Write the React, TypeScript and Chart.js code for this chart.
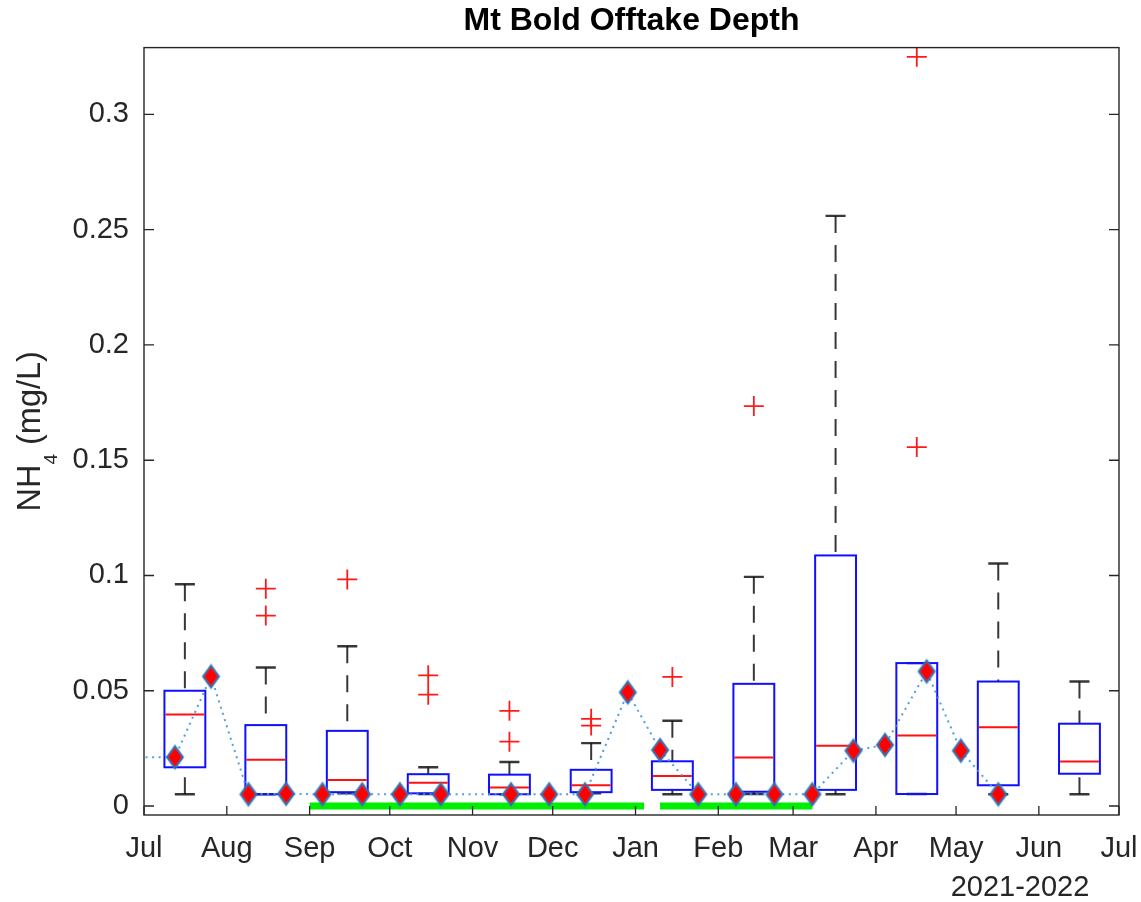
import React, { useEffect, useRef } from 'react';
import { Chart, registerables } from 'chart.js';

Chart.register(...registerables);

// ---------------- data ----------------
const monthTickDays = [0, 31, 62, 92, 123, 153, 184, 215, 243, 274, 304, 335, 365];
const monthTickLabels = ['Jul', 'Aug', 'Sep', 'Oct', 'Nov', 'Dec', 'Jan', 'Feb', 'Mar', 'Apr', 'May', 'Jun', 'Jul'];
const yearLabel = '2021-2022';
const yTickValues = [0, 0.05, 0.1, 0.15, 0.2, 0.25, 0.3];
const yTickLabels = ['0', '0.05', '0.1', '0.15', '0.2', '0.25', '0.3'];

// monthly box plots (x in days since 1 Jul 2021)
const boxDays = [15.3, 45.6, 76.1, 106.4, 136.8, 167.4, 197.8, 228.3, 258.9, 289.3, 319.8, 350.2];
const boxQ1 = [0.0168, 0.0051, 0.006, 0.0055, 0.0051, 0.006, 0.007, 0.0062, 0.007, 0.0052, 0.009, 0.014];
const boxMedian = [0.0397, 0.0201, 0.0113, 0.0101, 0.008, 0.009, 0.013, 0.021, 0.0261, 0.0306, 0.0342, 0.0193];
const boxQ3 = [0.05, 0.0351, 0.0326, 0.0138, 0.0136, 0.0157, 0.0194, 0.053, 0.1087, 0.062, 0.054, 0.0357];
const whiskerLow = [0.0051, 0.0051, 0.0055, 0.0052, 0.0051, 0.0055, 0.0051, 0.0052, 0.0051, 0.0052, 0.0051, 0.0051];
const whiskerHigh = [0.0962, 0.0601, 0.0693, 0.0168, 0.0191, 0.0273, 0.037, 0.0994, 0.256, 0.062, 0.1052, 0.054];

// outliers
const outlierDays = [45.6, 45.6, 76.1, 106.4, 106.4, 136.8, 136.8, 167.4, 167.4, 197.8, 228.3, 289.3, 289.3];
const outlierValues = [0.0943, 0.0826, 0.0983, 0.0567, 0.0483, 0.0413, 0.0279, 0.0378, 0.0349, 0.056, 0.1735, 0.1557, 0.325];

// offtake-depth samples (diamonds joined by dotted line)
const sampleDays = [-14, 11.6, 25.1, 39.1, 53.2, 66.8, 81.7, 95.8, 111.1, 137.4, 151.7, 165.1, 181.1, 193.2, 207.5, 221.6, 236, 250.2, 265.6, 277.4, 293, 305.8, 319.8];
const sampleValues = [0.0212, 0.0212, 0.0562, 0.0051, 0.0053, 0.0051, 0.0051, 0.0051, 0.0051, 0.0051, 0.0051, 0.0051, 0.0493, 0.0243, 0.0051, 0.0051, 0.0051, 0.0051, 0.024, 0.0265, 0.0584, 0.024, 0.0051];

// green period bars
const periodStartDays = [62, 193.2];
const periodEndDays = [187.2, 250.2];
const periodLevel = 0;

// ---------------- styles ----------------
const FONT = "'Liberation Sans', Arial, Helvetica, sans-serif";
const AXIS_COLOR = '#262626';
const BOX_HALF_DAYS = 7.65;
const CAP_HALF_DAYS = 3.75;

function makeDiamond(): HTMLCanvasElement {
  const c = document.createElement('canvas');
  c.width = 22;
  c.height = 28;
  const g = c.getContext('2d')!;
  g.beginPath();
  g.moveTo(11, 3);
  g.lineTo(19, 14);
  g.lineTo(11, 25);
  g.lineTo(3, 14);
  g.closePath();
  g.fillStyle = '#ff0000';
  g.fill();
  g.lineWidth = 2.6;
  g.strokeStyle = 'rgba(60,140,210,0.6)';
  g.stroke();
  g.lineWidth = 1.1;
  g.strokeStyle = '#1f6fb2';
  g.stroke();
  return c;
}

const boxPlugin = {
  id: 'boxplots',
  beforeDatasetsDraw(chart: any) {
    const { ctx, chartArea } = chart;
    const x = chart.scales.x;
    const y = chart.scales.y;
    ctx.save();
    ctx.beginPath();
    ctx.rect(chartArea.left, chartArea.top, chartArea.right - chartArea.left, chartArea.bottom - chartArea.top);
    ctx.clip();
    const line = (x1: number, y1: number, x2: number, y2: number) => {
      ctx.beginPath();
      ctx.moveTo(x1, y1);
      ctx.lineTo(x2, y2);
      ctx.stroke();
    };
    boxDays.forEach((d, i) => {
      const cx = x.getPixelForValue(d);
      const left = x.getPixelForValue(d - BOX_HALF_DAYS);
      const right = x.getPixelForValue(d + BOX_HALF_DAYS);
      const capL = x.getPixelForValue(d - CAP_HALF_DAYS);
      const capR = x.getPixelForValue(d + CAP_HALF_DAYS);
      const yq1 = y.getPixelForValue(boxQ1[i]);
      const yq3 = y.getPixelForValue(boxQ3[i]);
      const ymed = y.getPixelForValue(boxMedian[i]);
      const ylo = y.getPixelForValue(whiskerLow[i]);
      const yhi = y.getPixelForValue(whiskerHigh[i]);
      // whiskers
      ctx.strokeStyle = 'rgba(20,20,20,0.85)';
      ctx.lineWidth = 2;
      ctx.setLineDash([17, 12]);
      if (yhi < yq3) line(cx, yhi, cx, yq3);
      if (ylo > yq1) line(cx, ylo, cx, yq1);
      ctx.setLineDash([]);
      ctx.lineWidth = 2.4;
      line(capL, yhi, capR, yhi);
      line(capL, ylo, capR, ylo);
      // box
      ctx.strokeStyle = '#1010ff';
      ctx.lineWidth = 2;
      ctx.strokeRect(left, yq3, right - left, yq1 - yq3);
      // median
      ctx.strokeStyle = '#ff1010';
      ctx.lineWidth = 2;
      line(left + 1, ymed, right - 1, ymed);
    });
    ctx.restore();
  },
  afterDraw(chart: any) {
    const { ctx, chartArea } = chart;
    const x = chart.scales.x;
    const y = chart.scales.y;
    const { left, right, top, bottom } = chartArea;
    ctx.save();
    ctx.strokeStyle = AXIS_COLOR;
    ctx.lineWidth = 1.4;
    ctx.strokeRect(left, top, right - left, bottom - top);
    ctx.lineWidth = 1.3;
    // y ticks (left and right, inward)
    yTickValues.forEach((v) => {
      const py = y.getPixelForValue(v);
      ctx.beginPath();
      ctx.moveTo(left, py);
      ctx.lineTo(left + 10, py);
      ctx.moveTo(right, py);
      ctx.lineTo(right - 10, py);
      ctx.stroke();
    });
    // x ticks (bottom, inward)
    monthTickDays.forEach((v) => {
      const px = x.getPixelForValue(v);
      ctx.beginPath();
      ctx.moveTo(px, bottom);
      ctx.lineTo(px, bottom - 9);
      ctx.stroke();
    });
    // y axis title with subscript
    const mainSize = 32.5;
    const subSize = 19;
    ctx.fillStyle = AXIS_COLOR;
    ctx.translate(40, (top + bottom) / 2);
    ctx.rotate(-Math.PI / 2);
    ctx.textBaseline = 'alphabetic';
    ctx.textAlign = 'left';
    ctx.font = `${mainSize}px ${FONT}`;
    const w1 = ctx.measureText('NH').width;
    const w3 = ctx.measureText(' (mg/L)').width;
    ctx.font = `${subSize}px ${FONT}`;
    const w2 = ctx.measureText('4').width;
    const start = -(w1 + w2 + w3) / 2;
    ctx.font = `${mainSize}px ${FONT}`;
    ctx.fillText('NH', start, 0);
    ctx.font = `${subSize}px ${FONT}`;
    ctx.fillText('4', start + w1, 17);
    ctx.font = `${mainSize}px ${FONT}`;
    ctx.fillText(' (mg/L)', start + w1 + w2, 0);
    ctx.setTransform(1, 0, 0, 1, 0, 0);
    // year label
    ctx.font = `29px ${FONT}`;
    ctx.textAlign = 'center';
    ctx.textBaseline = 'middle';
    ctx.fillText(yearLabel, right - 99, 887.5);
    ctx.restore();
  },
};

export default function App() {
  const canvasRef = useRef<HTMLCanvasElement | null>(null);

  useEffect(() => {
    const canvas = canvasRef.current;
    if (!canvas) return;
    const diamond = makeDiamond();

    const sampleData = sampleDays.map((d, i) => ({ x: d, y: sampleValues[i] }));
    const outlierData = outlierDays.map((d, i) => ({ x: d, y: outlierValues[i] }));
    const periodSets = periodStartDays.map((s, i) => ({
      label: 'period ' + (i + 1),
      data: [
        { x: s, y: periodLevel },
        { x: periodEndDays[i], y: periodLevel },
      ],
      showLine: true,
      borderColor: '#00ee00',
      borderWidth: 7,
      borderCapStyle: 'butt',
      pointRadius: 0,
    }));

    const chart = new Chart(canvas, {
      type: 'scatter',
      data: {
        datasets: [
          {
            label: 'Offtake depth',
            data: sampleData,
            showLine: true,
            borderColor: 'rgba(70,155,220,0.95)',
            borderWidth: 2,
            borderDash: [2, 4.5],
            pointStyle: diamond as any,
            pointRadius: 10,
            backgroundColor: '#ff0000',
          },
          {
            label: 'Outliers',
            data: outlierData,
            showLine: false,
            pointStyle: 'cross',
            pointRadius: 10,
            borderColor: '#ff1a1a',
            borderWidth: 1.8,
          },
          ...(periodSets as any[]),
        ],
      },
      options: {
        animation: false,
        responsive: false,
        devicePixelRatio: 1,
        events: [],
        layout: { padding: { left: 0, right: 22, top: 0, bottom: 0 } },
        plugins: {
          legend: { display: false },
          tooltip: { enabled: false },
          title: {
            display: true,
            fullSize: false,
            text: 'Mt Bold Offtake Depth',
            color: '#000000',
            font: { family: FONT, size: 32, weight: 'bold', lineHeight: 1.2 },
            padding: { top: 2.3, bottom: 6.9 },
          },
        },
        scales: {
          x: {
            type: 'linear',
            min: 0,
            max: 365,
            grid: { display: false, drawTicks: false },
            border: { display: false },
            afterBuildTicks: (s: any) => {
              s.ticks = monthTickDays.map((v) => ({ value: v }));
            },
            afterFit: (s: any) => {
              s.height = 87;
              s.paddingLeft = 0;
              s.paddingRight = 0;
            },
            ticks: {
              autoSkip: false,
              maxRotation: 0,
              padding: 17,
              color: AXIS_COLOR,
              font: { family: FONT, size: 29 },
              callback: (_v: any, i: number) => monthTickLabels[i],
            },
          },
          y: {
            type: 'linear',
            min: -0.0039,
            max: 0.329,
            grid: { display: false, drawTicks: false },
            border: { display: false },
            afterBuildTicks: (s: any) => {
              s.ticks = yTickValues.map((v) => ({ value: v }));
            },
            afterFit: (s: any) => {
              s.width = 144;
              s.paddingTop = 0;
              s.paddingBottom = 0;
            },
            ticks: {
              padding: 15,
              color: AXIS_COLOR,
              font: { family: FONT, size: 29 },
              callback: (_v: any, i: number) => yTickLabels[i],
            },
          },
        },
      } as any,
      plugins: [boxPlugin],
    });
    return () => chart.destroy();
  }, []);

  return (
    <div style={{ position: 'fixed', left: 0, top: 0, width: 1141, height: 902, background: '#ffffff' }}>
      <canvas ref={canvasRef} width={1141} height={902} style={{ display: 'block', width: 1141, height: 902 }} />
    </div>
  );
}
